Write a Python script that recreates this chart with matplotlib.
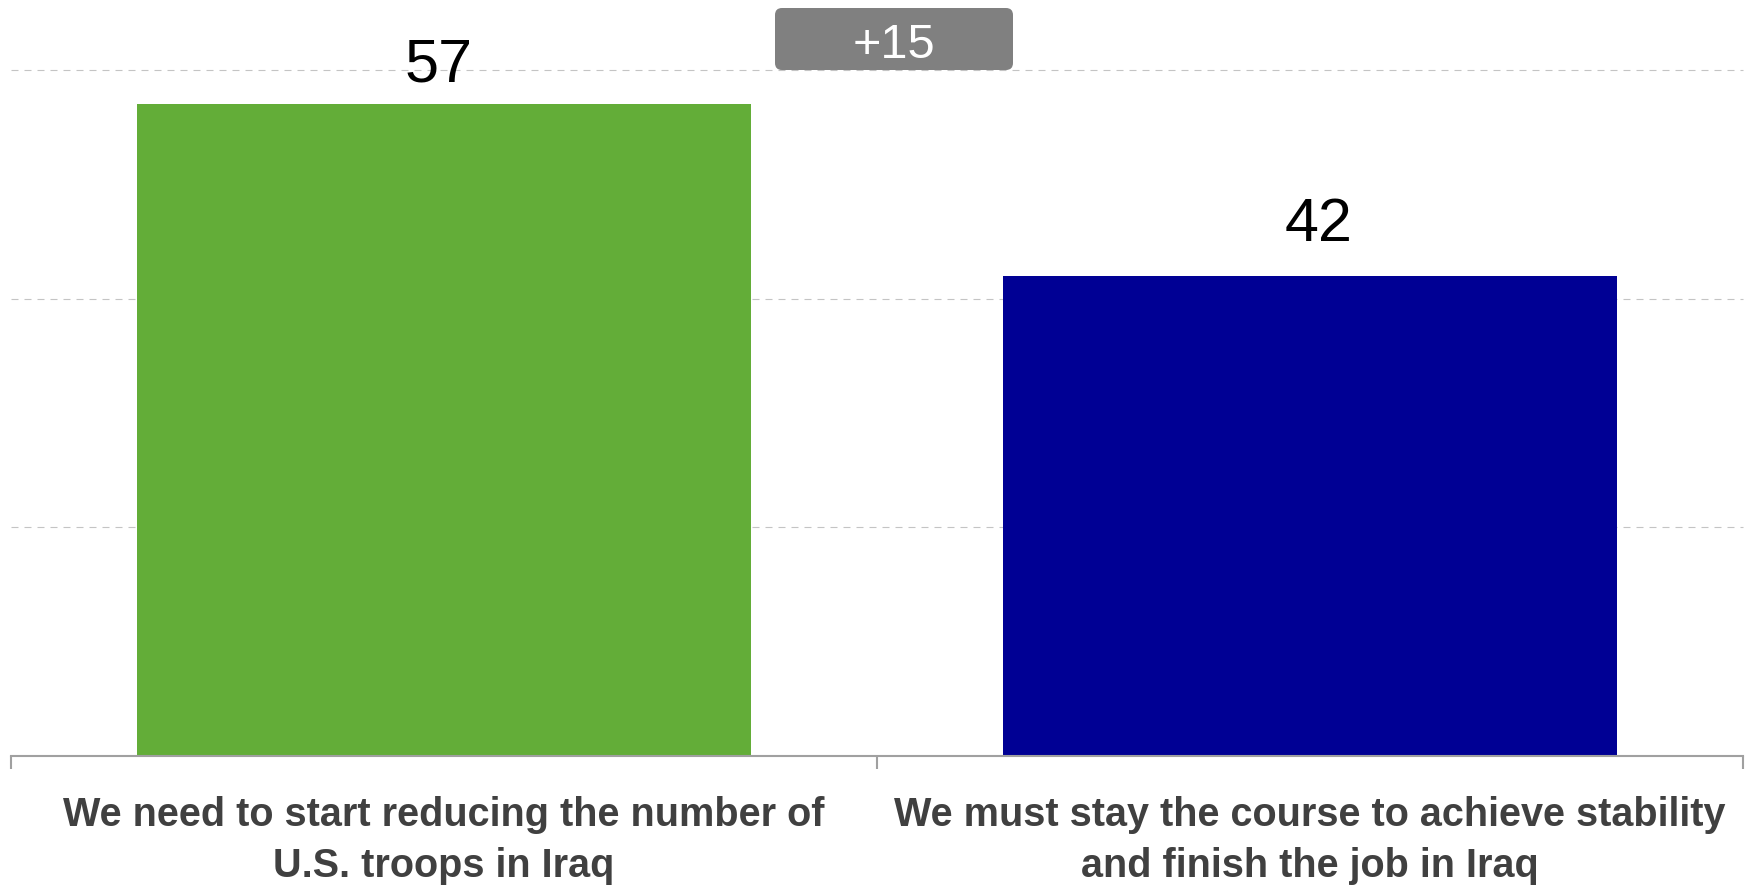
import matplotlib.pyplot as plt
from matplotlib.patches import FancyBboxPatch

plt.rcParams['font.family'] = ['Liberation Sans', 'DejaVu Sans']

categories = ["We need to start reducing the number of\nU.S. troops in Iraq",
              "We must stay the course to achieve stability\nand finish the job in Iraq"]
values = [57, 42]
colors = ['#63ad38', '#000094']
grid_values = [20, 40, 60]
label_offsets = [(-4, 7), (6.5, 16)]  # pt from bar top

W, H = 1751, 886
fig = plt.figure(figsize=(W / 100, H / 100), dpi=100)
ax = fig.add_axes([11 / W, 1 - 756 / H, 1732 / W, 686 / H])

x = list(range(len(values)))
ax.bar(x, values, width=0.71, color=colors, zorder=2)
ax.set_xlim(-0.5, len(values) - 0.5)
ax.set_ylim(0, 60)

for gv in grid_values:
    ax.axhline(gv, color='#c4c4c4', lw=0.8, linestyle=(0, (6.3, 5.4)), zorder=1, clip_on=False)

for i, v in enumerate(values):
    ax.annotate(str(v), (i, v), xytext=label_offsets[i], textcoords='offset points',
                ha='center', va='bottom', fontsize=44, color='black')

# gap box
diff = values[0] - values[1]
bx0, bx1 = 775 / W, 1013 / W
by0, by1 = 1 - 70 / H, 1 - 8 / H
box = FancyBboxPatch((bx0, by0), bx1 - bx0, by1 - by0,
                     boxstyle='round,pad=0,rounding_size=0.004',
                     mutation_aspect=W / H, transform=fig.transFigure,
                     facecolor='#808080', edgecolor='none', zorder=5)
fig.patches.append(box)
fig.text((bx0 + bx1) / 2, (by0 + by1) / 2 - 6 / H, f"+{diff}", ha='center', va='center',
         fontsize=35, color='white', zorder=6)

for s in ['left', 'right', 'top']:
    ax.spines[s].set_visible(False)
ax.spines['bottom'].set_color('#a0a0a0')
ax.spines['bottom'].set_linewidth(1.5)
ax.set_yticks([])

ax.set_xticks([-0.5, 0.5, 1.5])
ax.set_xticklabels([])
ax.tick_params(axis='x', which='major', length=9, width=1.5, color='#a0a0a0', direction='out')
ax.set_xticks(x, minor=True)
ax.set_xticklabels(categories, minor=True, fontsize=28.5, fontweight='bold',
                   color='#404040', linespacing=1.42)
ax.tick_params(axis='x', which='minor', length=0, pad=29)

fig.savefig('out.png', dpi=100)
